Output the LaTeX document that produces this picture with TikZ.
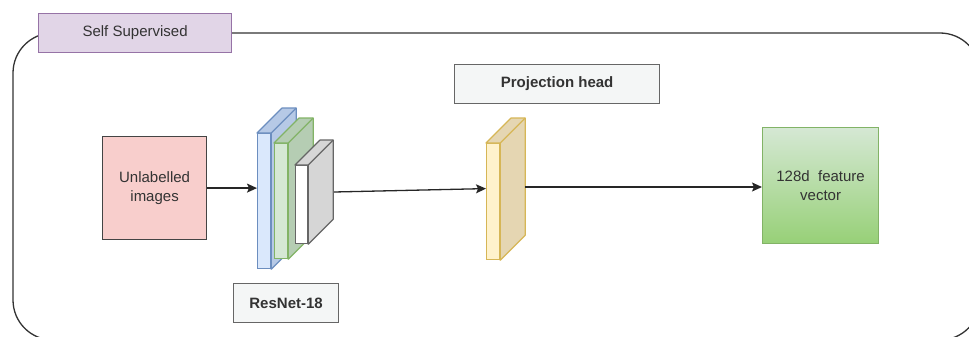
\documentclass[tikz,border=0pt]{standalone}
\usepackage{fontspec}
\setmainfont{Liberation Sans}
\usetikzlibrary{calc,arrows.meta}

\definecolor{txt}{HTML}{333333}
\definecolor{lavfill}{HTML}{E1D5E7}
\definecolor{lavline}{HTML}{9673A6}
\definecolor{pinkfill}{HTML}{F8CECC}
\definecolor{boxline}{HTML}{444444}
\definecolor{greyline}{HTML}{666666}
\definecolor{palebox}{HTML}{F4F6F6}
\definecolor{bluefront}{HTML}{DAE8FC}
\definecolor{blueside}{HTML}{B6C9E6}
\definecolor{blueline}{HTML}{6C8EBF}
\definecolor{greenfront}{HTML}{D5E8D4}
\definecolor{greenside}{HTML}{B5CDB3}
\definecolor{greenline}{HTML}{82B366}
\definecolor{whiteside}{HTML}{D6D6D6}
\definecolor{yellowfront}{HTML}{FFF2CC}
\definecolor{yellowside}{HTML}{E5D6B2}
\definecolor{yellowline}{HTML}{D6B656}
\definecolor{vecgreen}{HTML}{97D077}

\tikzset{
  lbl/.style={font=\fontsize{15}{19}\selectfont, text=txt, align=center},
  boldlbl/.style={lbl, font=\fontsize{15}{19}\selectfont\bfseries},
  frame/.style={draw, line width=1.2pt, inner sep=0pt, anchor=north west},
  slabfront/.style={frame, draw=#1},
  link/.style={draw=black!85, line width=1.3pt, -{Stealth[length=10pt,width=9pt,inset=2pt]}},
}

% a layer slab: front face node #1, depth offset (25 right, 25 up)
\newcommand{\slabsides}[3]{%
  \draw[line width=1.2pt, draw=#3, fill=#2, line join=round]
    (#1.north west) -- ++(25,-25) -- ($(#1.north east)+(25,-25)$)
    -- ($(#1.south east)+(25,-25)$) -- (#1.south east) -- (#1.north east) -- cycle;
  \draw[line width=1.2pt, draw=#3] (#1.north east) -- ++(25,-25);
}

\begin{document}
\begin{tikzpicture}[x=1pt,y=-1pt]
  \useasboundingbox (0,0) rectangle (969,337);
  \clip (0,0) rectangle (969,337);

  % enclosing container
  \draw[line width=1.3pt, draw=black!80, rounded corners=40pt] (13,33) rectangle (980,340);
  \node[frame, draw=lavline, fill=lavfill, minimum width=193pt, minimum height=39pt,
        lbl] (title) at (38,13) {Self Supervised};

  % input
  \node[frame, draw=boxline, fill=pinkfill, minimum width=104pt, minimum height=103pt,
        lbl] (input) at (102,136) {Unlabelled\\images};

  % ResNet-18 layers
  \node[slabfront=blueline, fill=bluefront, minimum width=13pt, minimum height=135pt] (l1) at (257,133) {};
  \slabsides{l1}{blueside}{blueline}
  \node[slabfront=greenline, fill=greenfront, minimum width=13pt, minimum height=115pt] (l2) at (274,143) {};
  \slabsides{l2}{greenside}{greenline}
  \node[slabfront=greyline, fill=white, minimum width=12pt, minimum height=78pt] (l3) at (295,165) {};
  \slabsides{l3}{whiteside}{greyline}
  \node[frame, draw=greyline, fill=palebox, minimum width=105pt, minimum height=39pt,
        boldlbl] (resnet) at (233,283) {ResNet-18};

  % projection head
  \node[frame, draw=greyline, fill=palebox, minimum width=205pt, minimum height=39pt,
        boldlbl] (projlbl) at (454,64) {Projection head};
  \node[slabfront=yellowline, fill=yellowfront, minimum width=13pt, minimum height=116pt] (proj) at (486,143) {};
  \slabsides{proj}{yellowside}{yellowline}

  % output
  \node[frame, draw=greenline, top color=greenfront, bottom color=vecgreen,
        minimum width=116pt, minimum height=116pt, lbl] (vec) at (762,127) {128d~ feature\\vector};

  % connectors
  \coordinate (l3out) at ($(l3.north east)+(26,27)$);
  \coordinate (projout) at ($(proj.north east)+(25,44)$);
  \path[link] (input.east) -- (input.east -| l1.west);
  \path[link] (l3out) -- ($(proj.west)+(0,-13)$);
  \path[link] (projout) -- (projout -| vec.west);
\end{tikzpicture}
\end{document}
